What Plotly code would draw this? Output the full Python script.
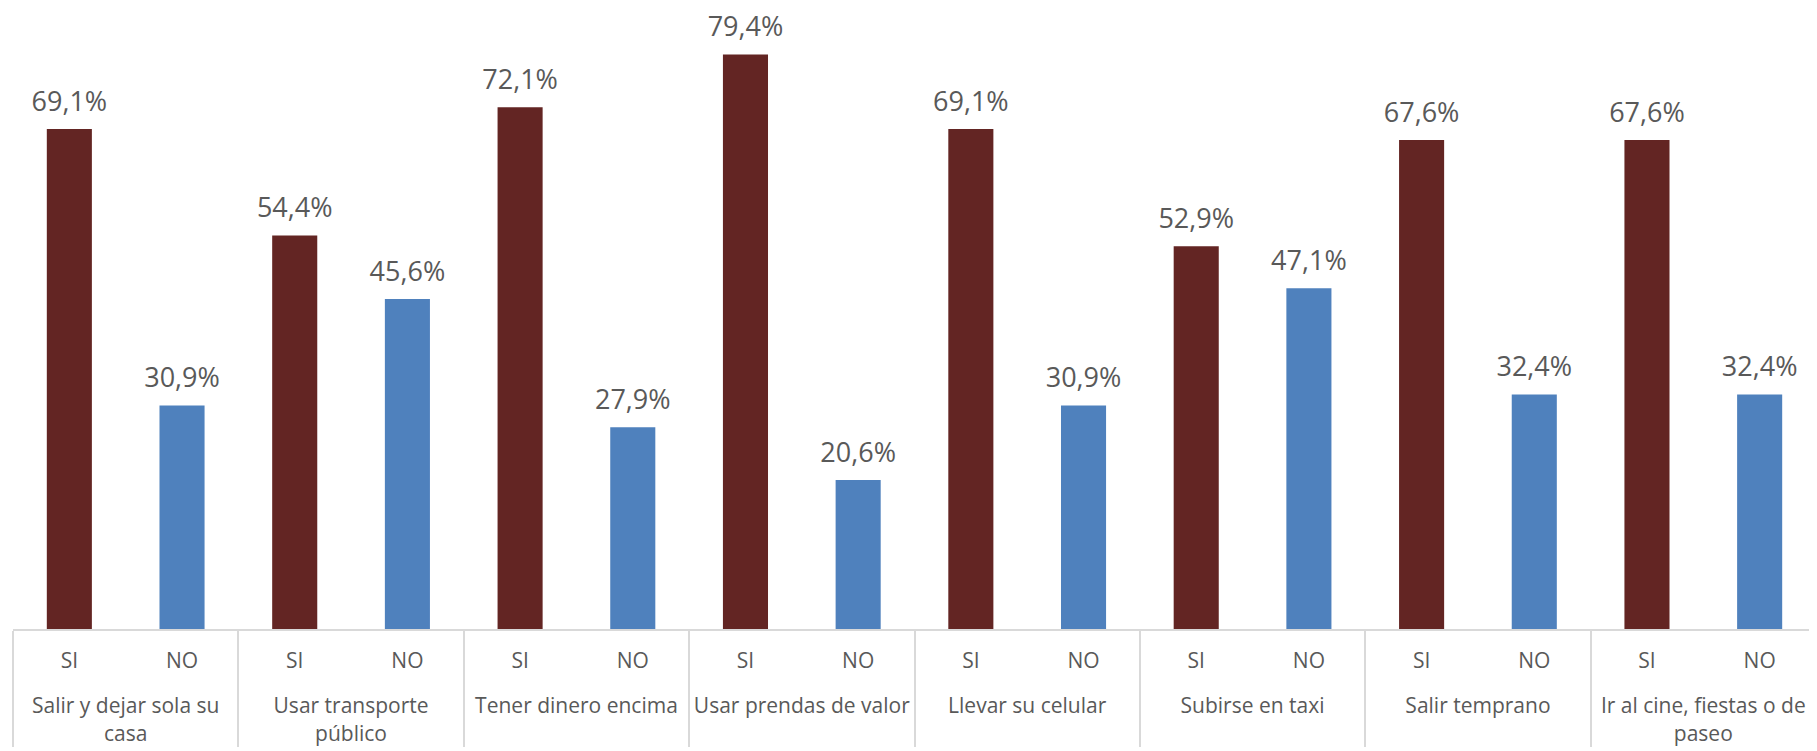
import plotly.graph_objects as go

groups = [
    "Salir y dejar sola su<br>casa",
    "Usar transporte<br>público",
    "Tener dinero encima",
    "Usar prendas de valor",
    "Llevar su celular",
    "Subirse en taxi",
    "Salir temprano",
    "Ir al cine, fiestas o de<br>paseo",
]
answers = ["SI", "NO"]
si_values = [69.1, 54.4, 72.1, 79.4, 69.1, 52.9, 67.6, 67.6]
no_values = [30.9, 45.6, 27.9, 20.6, 30.9, 47.1, 32.4, 32.4]

SI_COLOR = "#632523"
NO_COLOR = "#4F81BD"
TEXT_COLOR = "#595959"
LINE_COLOR = "#D9D9D9"
FONT = "Open Sans"

x_group, x_ans, y_vals, colors = [], [], [], []
for g, s, n in zip(groups, si_values, no_values):
    for a, v in zip(answers, (s, n)):
        x_group.append("&nbsp;<br>" + g)
        x_ans.append(a)
        y_vals.append(v)
        colors.append(SI_COLOR if a == "SI" else NO_COLOR)

fig = go.Figure()
fig.add_trace(go.Bar(
    x=[x_group, x_ans], y=y_vals,
    marker=dict(color=colors, line=dict(width=0)),
    hoverinfo="skip", showlegend=False,
))
fig.add_trace(go.Scatter(
    x=[x_group, x_ans], y=y_vals,
    mode="markers+text",
    marker=dict(size=17, opacity=0),
    texttemplate="%{y:.1f}%",
    textposition="top center",
    textfont=dict(family=FONT, size=27, color=TEXT_COLOR),
    cliponaxis=False, hoverinfo="skip", showlegend=False,
))

fig.update_layout(
    width=1809, height=743,
    margin=dict(l=5, r=1, t=0, b=122),
    paper_bgcolor="white", plot_bgcolor="white",
    separators=",.",
    bargap=0.6,
    font=dict(family=FONT, size=21, color=TEXT_COLOR),
)
fig.update_xaxes(
    type="multicategory",
    range=[-0.5, len(x_ans) - 0.5],
    autorange=False,
    showline=True, linecolor=LINE_COLOR, linewidth=1.5,
    showdividers=True, dividercolor=LINE_COLOR, dividerwidth=1.5,
    showgrid=False, ticks="",
    ticklabelstandoff=12,
    tickangle=0,
    tickfont=dict(family=FONT, size=21, color=TEXT_COLOR),
)
fig.update_yaxes(
    range=[0, 85.83], visible=False, showgrid=False, zeroline=False,
)

fig.write_html("out.html")
